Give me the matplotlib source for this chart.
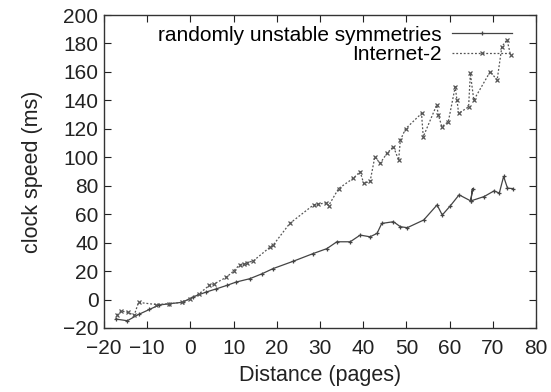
#!/usr/bin/env python3
"""Clock speed vs distance, two series, gnuplot-like style."""

import matplotlib
matplotlib.use('Agg')
import matplotlib.pyplot as plt

plt.rcParams['font.family'] = ['Liberation Sans', 'DejaVu Sans']

# randomly unstable symmetries (lower, solid)
RUS_X = [-17.3, -14.6, -12.0, -9.5, -7.2, -4.9, -1.8, 0.5, 3.6, 6.0,
         8.5, 10.6, 13.7, 16.5, 19.1, 23.8, 28.4, 31.6, 33.9, 37.0,
         39.3, 41.6, 43.2, 44.3, 47.0, 48.6, 50.2, 54.0, 57.1, 58.3,
         60.2, 62.2, 64.9, 65.3, 64.9, 68.0, 70.3, 71.5, 72.5, 73.4, 74.6]
RUS_Y = [-13.7, -14.9, -10.5, -7.0, -3.8, -3.0, -1.9, 1.7, 5.2, 7.5,
         10.0, 12.3, 14.6, 18.0, 21.7, 26.9, 32.3, 35.8, 40.6, 40.6,
         45.3, 44.1, 46.5, 53.5, 54.7, 51.2, 50.5, 55.9, 66.5, 59.4,
         66.0, 73.6, 69.3, 77.8, 69.3, 72.4, 76.4, 74.8, 86.5, 78.3, 78.0]

# Internet-2 (upper, dotted)
I2_X = [-17.0, -16.0, -14.5, -13.0, -12.0, -8.0, -5.0, -2.0, 0.0, 2.0,
        4.4, 5.5, 8.3, 10.0, 11.4, 12.5, 13.0, 14.5, 18.5, 19.1, 23.0,
        28.5, 29.5, 31.5, 32.0, 34.3, 37.7, 39.3, 40.1, 41.6, 42.7,
        43.9, 45.5, 47.0, 48.2, 48.6, 49.8, 53.5, 53.9, 57.0, 57.4,
        58.2, 59.7, 61.3, 61.7, 62.1, 64.4, 64.8, 65.6, 69.4, 71.0,
        72.1, 73.3, 74.1]
I2_Y = [-11.0, -8.0, -9.0, -11.0, -2.0, -3.5, -3.0, -2.0, 0.5, 4.0,
        10.0, 11.0, 15.6, 20.0, 24.5, 25.0, 26.0, 27.0, 37.0, 38.0, 53.5,
        66.5, 67.0, 68.0, 66.0, 78.0, 85.2, 89.9, 81.7, 83.0, 100.4,
        95.7, 102.8, 107.5, 98.0, 112.0, 120.0, 130.8, 114.4, 136.7, 129.7,
        121.5, 125.0, 149.6, 140.2, 130.8, 135.5, 159.0, 140.2, 160.2, 154.3,
        177.8, 182.5, 171.9]

X_TICKS = [-20, -10, 0, 10, 20, 30, 40, 50, 60, 70, 80]
Y_TICKS = [-20, 0, 20, 40, 60, 80, 100, 120, 140, 160, 180, 200]

FS = 15


def main():
    fig = plt.figure(figsize=(5.51, 3.92), dpi=100)
    ax = fig.add_axes([0.1887, 0.1633, 0.9728 - 0.1887, 0.9617 - 0.1633])

    ax.plot(RUS_X, RUS_Y, color='#444444', linewidth=0.9,
            marker='+', markersize=3.5, markeredgewidth=0.9,
            label='randomly unstable symmetries')
    ax.plot(I2_X, I2_Y, color='#555555', linewidth=0.9, linestyle=(0, (1.5, 1.5)),
            marker='x', markersize=3.5, markeredgewidth=0.9,
            label='Internet-2')

    ax.set_xlim(-20, 80)
    ax.set_ylim(-20, 200)
    ax.set_xticks(X_TICKS)
    ax.set_yticks(Y_TICKS)
    ax.tick_params(direction='in', top=True, right=True, length=5,
                   labelsize=FS, colors='#222222', pad=4)
    ax.tick_params(axis='x', pad=8)
    for s in ax.spines.values():
        s.set_color('#333333')
        s.set_linewidth(1.0)
    ax.set_xlabel('Distance (pages)', fontsize=FS + 0.5, labelpad=5,
                  color='#222222')
    ax.set_ylabel('clock speed (ms)', fontsize=FS + 0.5, labelpad=14,
                  color='#222222')

    ax.legend(loc='upper right', bbox_to_anchor=(0.979, 1.013),
              frameon=False, markerfirst=False,
              fontsize=FS, handlelength=2.9, borderaxespad=0.4,
              borderpad=0.3, labelspacing=0.03, handletextpad=0.5)

    fig.savefig('out.png', dpi=100)


if __name__ == '__main__':
    main()
